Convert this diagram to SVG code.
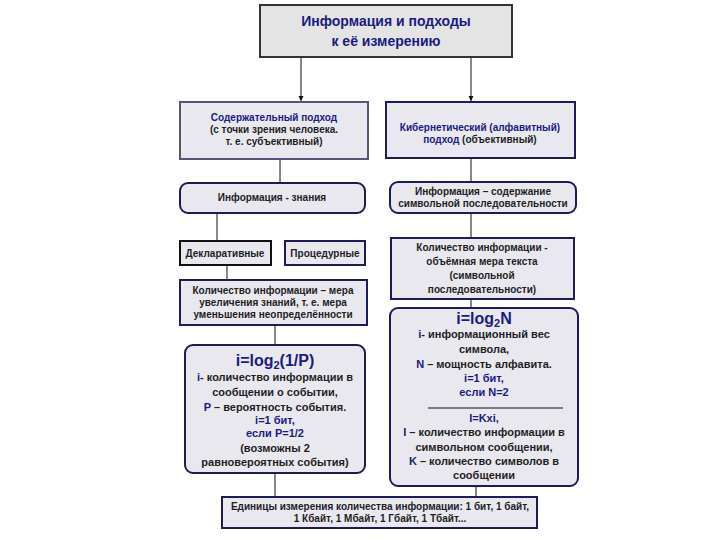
<svg xmlns="http://www.w3.org/2000/svg" width="720" height="540" viewBox="0 0 720 540">
<style>
text{font-family:"Liberation Sans",Arial,sans-serif;font-weight:bold;font-size:10px;fill:#1e1e1e;text-anchor:middle}
.nv{fill:#1a1a80}
.box{fill:#e8e8ee;stroke:#1c1c5a;stroke-width:2}
.f{font-size:11px}
.t{font-size:16px}
.con{stroke:#111;stroke-width:1;fill:none}
</style>
<defs>
<marker id="ah" markerWidth="6" markerHeight="6" refX="5" refY="3" orient="auto" markerUnits="userSpaceOnUse">
<path d="M0,0.5 L5,3 L0,5.5 Z" fill="#111"/>
</marker>
</defs>
<rect width="720" height="540" fill="#fff"/>

<g id="connectors">
<path class="con" d="M301 57 V101" marker-end="url(#ah)"/>
<path class="con" d="M471 57 V101" marker-end="url(#ah)"/>
<path class="con" d="M280 159 V183"/>
<path class="con" d="M471 158 V182"/>
<path class="con" d="M217 213 V241" stroke-width="2"/>
<path class="con" d="M471 213 V238"/>
<path class="con" d="M227 265 V280"/>
<path class="con" d="M275 325 V345"/>
<path class="con" d="M471 299 V308"/>
<path class="con" d="M275 473 V497"/>
<path class="con" d="M476 486 V497"/>
</g>

<g id="top">
<rect x="260" y="5" width="252" height="52" fill="#e4e4e4" stroke="#333" stroke-width="2"/>
<text x="386" y="26" class="nv" style="font-size:14px">Информация и подходы</text>
<text x="386" y="46" class="nv" style="font-size:14px">к её измерению</text>
</g>

<g id="content">
<rect x="180" y="102" width="188" height="57" fill="#e8e8ee" stroke="#55557a" stroke-width="2"/>
<text x="274" y="121" class="nv">Содержательный подход</text>
<text x="274" y="133">(с точки зрения человека.</text>
<text x="274" y="145">т. е. субъективный)</text>
</g>

<g id="cyber">
<rect x="386" y="102" width="189" height="56" class="box"/>
<text x="480" y="131" class="nv">Кибернетический (алфавитный)</text>
<text x="480" y="143"><tspan class="nv">подход</tspan> (объективный)</text>
</g>

<g id="info-knowledge">
<rect x="180" y="183" width="185" height="30" rx="8" class="box"/>
<text x="272" y="201">Информация - знания</text>
</g>

<g id="info-content">
<rect x="390" y="182" width="186" height="31" rx="8" class="box"/>
<text x="483" y="195">Информация – содержание</text>
<text x="483" y="207">символьной последовательности</text>
</g>

<g id="declarative">
<rect x="180" y="241" width="91" height="24" fill="#e8e8ee" stroke="#111" stroke-width="2"/>
<text x="225" y="257">Декларативные</text>
</g>

<g id="procedural">
<rect x="285" y="241" width="80" height="24" class="box" stroke-width="1.5"/>
<text x="325" y="257">Процедурные</text>
</g>

<g id="volume">
<rect x="391" y="238" width="183" height="61" class="box"/>
<text x="482" y="251">Количество информации -</text>
<text x="482" y="265">объёмная мера текста</text>
<text x="482" y="279">(символьной</text>
<text x="482" y="293">последовательности)</text>
</g>

<g id="measure">
<rect x="180" y="280" width="187" height="45" class="box"/>
<text x="273" y="294">Количество информации – мера</text>
<text x="273" y="306">увеличения знаний, т. е. мера</text>
<text x="273" y="318">уменьшения неопределённости</text>
</g>

<g id="formula-left">
<rect x="185" y="345" width="180" height="128" rx="8" class="box"/>
<text x="275" y="366" class="nv t">i=log<tspan font-size="11" dy="3">2</tspan><tspan dy="-3">(1/P)</tspan></text>
<text x="275" y="381" class="f"><tspan class="nv">i</tspan>- количество информации в</text>
<text x="275" y="396" class="f">сообщении о событии,</text>
<text x="275" y="411" class="f"><tspan class="nv">P</tspan> – вероятность события.</text>
<text x="275" y="424" class="f nv" font-weight="normal">i=1 бит,</text>
<text x="275" y="437" class="f nv">если P=1/2</text>
<text x="275" y="452" class="f">(возможны 2</text>
<text x="275" y="466" class="f">равновероятных события)</text>
</g>

<g id="formula-right">
<rect x="390" y="308" width="188" height="178" rx="8" class="box"/>
<text x="484" y="324" class="nv t">i=log<tspan font-size="11" dy="3">2</tspan><tspan dy="-3">N</tspan></text>
<text x="484" y="338" class="f"><tspan class="nv">i</tspan>- информационный вес</text>
<text x="484" y="353" class="f">символа,</text>
<text x="484" y="368" class="f"><tspan class="nv">N</tspan> – мощность алфавита.</text>
<text x="484" y="382" class="f nv">i=1 бит,</text>
<text x="484" y="396" class="f nv">если  N=2</text>
<line x1="428" y1="408" x2="563" y2="408" stroke="#111" stroke-width="1"/>
<text x="484" y="422" class="f nv">I=Kxi,</text>
<text x="484" y="436" class="f"><tspan class="nv">I</tspan> – количество информации в</text>
<text x="484" y="451" class="f">символьном сообщении,</text>
<text x="484" y="465" class="f"><tspan class="nv">K</tspan> – количество символов в</text>
<text x="484" y="479" class="f">сообщении</text>
</g>

<g id="units">
<rect x="222" y="497" width="315" height="31" class="box"/>
<text x="380" y="510">Единицы измерения количества информации: 1 бит, 1 байт,</text>
<text x="380" y="522">1 Кбайт, 1 Мбайт, 1 Гбайт, 1 Тбайт...</text>
</g>
</svg>
